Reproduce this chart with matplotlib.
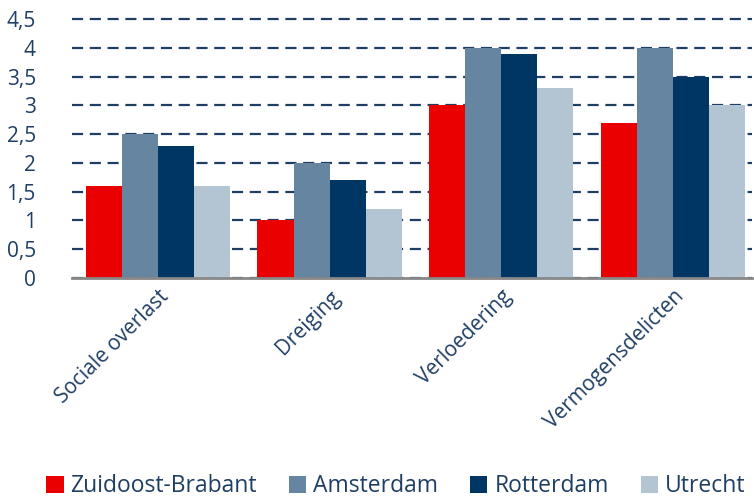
import matplotlib.pyplot as plt
import numpy as np

categories = ["Sociale overlast", "Dreiging", "Verloedering", "Vermogensdelicten"]
regions = ["Zuidoost-Brabant", "Amsterdam", "Rotterdam", "Utrecht"]
zuidoost = [1.6, 1.0, 3.0, 2.7]
amsterdam = [2.5, 2.0, 4.0, 4.0]
rotterdam = [2.3, 1.7, 3.9, 3.5]
utrecht = [1.6, 1.2, 3.3, 3.0]
yticks = [0, 0.5, 1, 1.5, 2, 2.5, 3, 3.5, 4, 4.5]
ytick_labels = ["0", "0,5", "1", "1,5", "2", "2,5", "3", "3,5", "4", "4,5"]

colors = ["#EA0000", "#6585A1", "#003663", "#B3C5D3"]
text_color = "#1F3E64"

plt.rcParams["font.family"] = ["Open Sans", "DejaVu Sans"]

fig = plt.figure(figsize=(7.54, 5.01), dpi=100)
ax = fig.add_axes([72 / 754, (501 - 278) / 501, (752 - 72) / 754, (278 - 19) / 501])

x = np.arange(len(categories))
bw = 0.21
series = [zuidoost, amsterdam, rotterdam, utrecht]
for i, vals in enumerate(series):
    ax.bar(x + (i - 1.5) * bw, vals, bw, color=colors[i], label=regions[i], zorder=3)

ax.set_ylim(0, 4.5)
ax.set_xlim(-0.5, 3.46)
ax.set_yticks(yticks)
ax.set_yticklabels(ytick_labels)
ax.yaxis.grid(True, linestyle=(0, (5, 3)), color="#1F3E64", linewidth=1.6, zorder=0)
for gl in ax.get_ygridlines():
    gl.set_clip_on(False)
ax.set_axisbelow(True)
for s in ["top", "right", "left"]:
    ax.spines[s].set_visible(False)
ax.spines["bottom"].set_color("#888888")
ax.spines["bottom"].set_linewidth(2)
ax.spines["bottom"].set_zorder(4)
ax.tick_params(axis="y", length=0, pad=26, labelsize=15, labelcolor=text_color)
ax.tick_params(axis="x", length=0, pad=6, labelsize=15, labelcolor=text_color)
ax.set_xticks(x)
ax.set_xticklabels(categories, rotation=45, ha="right", rotation_mode="anchor")

fig.legend(loc="lower center", bbox_to_anchor=(0.525, -0.036), ncol=4, frameon=False,
           fontsize=16.5, labelcolor=text_color, handlelength=0.75, handleheight=0.75,
           handletextpad=0.3, columnspacing=1.4)

fig.savefig("out.png", dpi=100)
